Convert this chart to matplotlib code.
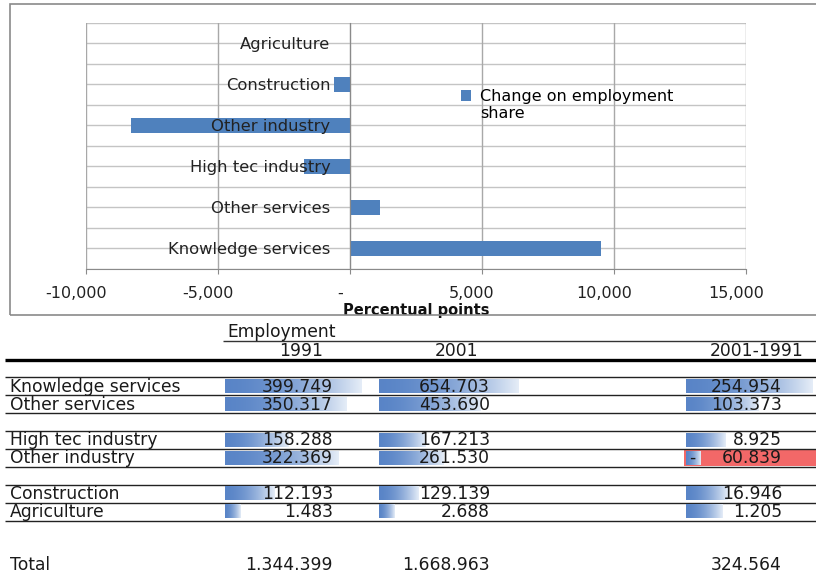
import numpy as np
import matplotlib
matplotlib.use("Agg")
import matplotlib.pyplot as plt
from matplotlib.patches import Rectangle
from matplotlib.transforms import ScaledTranslation

# ---------------------------------------------------------------- data
sectors = ["Knowledge services", "Other services", "High tec industry",
           "Other industry", "Construction", "Agriculture"]
emp_1991 = [399749, 350317, 158288, 322369, 112193, 1483]
emp_2001 = [654703, 453690, 167213, 261530, 129139, 2688]
emp_change = [254954, 103373, 8925, -60839, 16946, 1205]
totals = [1344399, 1668963, 324564]
share_change = [9494, 1126, -1755, -8309, -607, 51]   # change of employment share

x_ticks = [-10000, -5000, 0, 5000, 10000, 15000]
x_tick_labels = ["-10,000", "-5,000", "-", "5,000", "10,000", "15,000"]
column_headers = ["1991", "2001", "2001-1991"]
legend_lines = ["Change on employment", "share"]

# ---------------------------------------------------------------- figure
W, H = 816, 575
plt.rcParams["font.family"] = ["DejaVu Sans"]
fig = plt.figure(figsize=(W / 100, H / 100), dpi=100)
fig.patch.set_facecolor("white")


def fig_box(left, top, right, bottom):
    return [left / W, 1 - bottom / H, (right - left) / W, (bottom - top) / H]


# outer frame of the chart
fig.patches.append(Rectangle((10 / W, 1 - 315 / H), 830 / W, 311 / H,
                             transform=fig.transFigure, fill=False,
                             edgecolor="#8a8a8a", lw=1.2))

# ---------------------------------------------------------------- bar chart
ax = fig.add_axes(fig_box(86, 22.5, 746, 269))
ypos = np.arange(len(sectors))
bars = ax.barh(ypos, share_change, height=0.37, color="#4F81BD", zorder=2)
ax.set_xlim(x_ticks[0], x_ticks[-1])
ax.set_ylim(-0.5, len(sectors) - 0.5)

for yv in np.arange(-0.5, len(sectors), 0.5):
    ax.axhline(yv, color="#C4C4C4", lw=1.0, zorder=0.5)
for xv in x_ticks:
    ax.axvline(xv, color="#A8A8A8", lw=1.0, zorder=0.6)

ax.set_axisbelow(False)
for side in ("top", "right"):
    ax.spines[side].set_visible(False)
ax.spines["left"].set_position(("data", 0))
ax.spines["left"].set_color("#8a8a8a")
ax.spines["bottom"].set_color("#8a8a8a")

ax.set_yticks(ypos)
ax.set_yticklabels(sectors, fontsize=11.8, color="#222222")
ax.tick_params(axis="y", length=0, pad=14)
ax.set_xticks(x_ticks)
ax.set_xticklabels(x_tick_labels, fontsize=11.5, color="#222222")
ax.tick_params(axis="x", direction="out", length=3.6, color="#8a8a8a", pad=8.5)
shift = ScaledTranslation(-10 / 100, 0, fig.dpi_scale_trans)
for lbl in ax.get_xticklabels():
    lbl.set_transform(lbl.get_transform() + shift)
ax.set_xlabel("Percentual points", fontsize=10.5, fontweight="bold",
              color="#111111", labelpad=1.5)

# legend: square beside the first line, wrapped text below it
blank = Rectangle((0, 0), 1, 1, visible=False)
ax.legend([bars, blank], legend_lines, loc="upper left",
          bbox_to_anchor=(461 / W, 1 - 89 / H),
          bbox_transform=fig.transFigure, frameon=False, fontsize=11.5,
          handlelength=0.65, handleheight=0.65, handletextpad=0.55,
          labelspacing=0.15, borderpad=0, borderaxespad=0)

# ---------------------------------------------------------------- table
tab = fig.add_axes([0, 0, 1, 1])
tab.set_xlim(0, W)
tab.set_ylim(H, 0)
tab.axis("off")

fs = 12.3
txt_color = "#1a1a1a"
row_h = 17.9
first_top = 377.3
sector_rows = [0, 1, 3, 4, 6, 7]
total_row = 10

col_left = [225, 379, 686]
col_width = [152, 155, 141]
num_right = [333, 490, 782]
col_center = [l + w / 2 for l, w in zip(col_left, col_width)]


def row_top(k):
    return first_top + k * row_h


def fmt(v):
    return f"{abs(v):,}".replace(",", ".")


# header
tab.text(227, 332, "Employment", ha="left", va="center", fontsize=fs, color=txt_color)
tab.hlines(341, 223, W, color="#333333", lw=1.0)
for cx, hdr in zip(col_center, column_headers):
    tab.text(cx, 350.5, hdr, ha="center", va="center", fontsize=fs, color=txt_color)
tab.hlines(359.5, 5, W, color="black", lw=2.4)

# row rules
rule_rows = sorted(set(sector_rows) | {k + 1 for k in sector_rows})
for k in rule_rows:
    tab.hlines(row_top(k), 5, W, color="#222222", lw=1.0)

# gradient used by the data bars
base = np.array([0.35, 0.52, 0.78])
light = np.array([0.90, 0.93, 0.97])
t = np.linspace(0, 1, 256) ** 1.8
grad = (base[None, :] * (1 - t[:, None]) + light[None, :] * t[:, None])[None, :, :]

columns = [emp_1991, emp_2001, emp_change]
for ci, values in enumerate(columns):
    vmin, vmax = min(values), max(values)
    for k, v in zip(sector_rows, values):
        top = row_top(k)
        if v < 0:
            tab.add_patch(Rectangle((col_left[ci] - 2, top + 0.5), W - col_left[ci] + 10,
                                    row_h - 1, facecolor="#F26868", edgecolor="none",
                                    zorder=1))
        frac = 0.1 + 0.8 * (v - vmin) / (vmax - vmin)
        length = frac * col_width[ci]
        tab.imshow(grad, extent=(col_left[ci], col_left[ci] + length,
                                 top + row_h - 2.2, top + 2.0),
                   aspect="auto", interpolation="bilinear", zorder=2)
        if v < 0:
            tab.text(col_left[ci] + 6, top + row_h / 2, "-", ha="center", va="center",
                     fontsize=fs, color=txt_color, zorder=3)
        tab.text(num_right[ci], top + row_h / 2 + 0.5, fmt(v), ha="right", va="center",
                 fontsize=fs, color=txt_color, zorder=3)

for k, name in zip(sector_rows, sectors):
    tab.text(10, row_top(k) + row_h / 2 + 0.5, name, ha="left", va="center",
             fontsize=fs, color=txt_color, zorder=3)

tt = row_top(total_row) + row_h / 2
tab.text(10, tt, "Total", ha="left", va="center", fontsize=fs, color=txt_color)
for ci, v in enumerate(totals):
    tab.text(num_right[ci], tt, fmt(v), ha="right", va="center", fontsize=fs,
             color=txt_color)

tab.set_xlim(0, W)
tab.set_ylim(H, 0)

fig.savefig("out.png", dpi=100)
